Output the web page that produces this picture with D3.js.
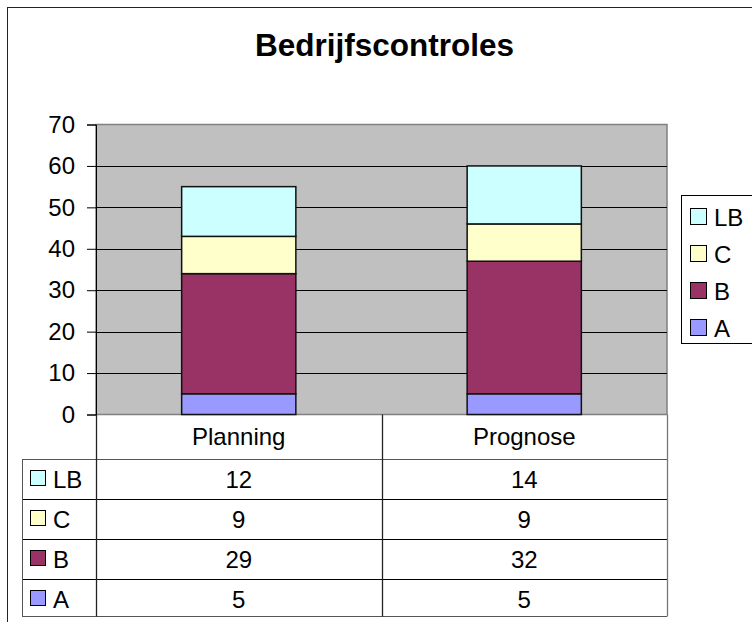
<!DOCTYPE html>
<html>
<head>
<meta charset="utf-8">
<script src="https://cdn.jsdelivr.net/npm/d3@7"></script>
<style>
  body { margin: 0; background: #fff; }
  text { font-family: "Liberation Sans", Arial, sans-serif; fill: #000; }
</style>
</head>
<body>
<div id="chart"></div>
<script>
// data
var categories = ["Planning", "Prognose"];
var seriesNames = ["A", "B", "C", "LB"];
var valuesA = [5, 5];
var valuesB = [29, 32];
var valuesC = [9, 9];
var valuesLB = [12, 14];
var seriesColors = ["#9999FF", "#993366", "#FFFFCC", "#CCFFFF"];
var yTicks = [0, 10, 20, 30, 40, 50, 60, 70];

var width = 752, height = 622;
var svg = d3.select("#chart").append("svg").attr("width", width).attr("height", height);

// outer chart border
svg.append("rect").attr("x", 7.5).attr("y", 7.5).attr("width", 800).attr("height", 700)
    .attr("fill", "#fff").attr("stroke", "#222").attr("stroke-width", 1);

// title
svg.append("text").attr("x", 384.5).attr("y", 56).attr("text-anchor", "middle")
    .style("font-size", "31.5px").style("font-weight", "bold").text("Bedrijfscontroles");

// scales
var plotLeft = 96, plotRight = 667, plotTop = 124.5, plotBottom = 414.5;
var x = d3.scaleBand().domain(categories).range([plotLeft, plotRight]).paddingInner(0.6).paddingOuter(0.3);
var y = d3.scaleLinear().domain([0, 70]).range([plotBottom, plotTop]);

// stack the series
var rows = categories.map(function(c, i) {
    return {cat: c, A: valuesA[i], B: valuesB[i], C: valuesC[i], LB: valuesLB[i]};
});
var stacked = d3.stack().keys(seriesNames)(rows);

// plot background
svg.append("rect").attr("x", plotLeft).attr("y", plotTop)
    .attr("width", plotRight - plotLeft).attr("height", plotBottom - plotTop)
    .attr("fill", "#C0C0C0").attr("stroke", "#808080").attr("stroke-width", 1.5);

// gridlines
svg.append("g").selectAll("line").data(yTicks.slice(1, -1)).enter().append("line")
    .attr("x1", plotLeft).attr("x2", plotRight)
    .attr("y1", function(d) { return Math.round(y(d)) + 0.5; })
    .attr("y2", function(d) { return Math.round(y(d)) + 0.5; })
    .attr("stroke", "#000").attr("stroke-width", 1);

// bars
var layer = svg.append("g").selectAll("g").data(stacked).enter().append("g")
    .attr("fill", function(d, i) { return seriesColors[i]; });
layer.selectAll("rect").data(function(d) { return d; }).enter().append("rect")
    .attr("x", function(d) { return x(d.data.cat); })
    .attr("width", x.bandwidth())
    .attr("y", function(d) { return y(d[1]); })
    .attr("height", function(d) { return y(d[0]) - y(d[1]); })
    .attr("stroke", "#111").attr("stroke-width", 1.5);

// y axis
var yAxis = d3.axisLeft(y).tickValues(yTicks).tickSize(9).tickPadding(12);
var ya = svg.append("g").attr("transform", "translate(" + plotLeft + ",0)").call(yAxis);
ya.select(".domain").attr("stroke", "#000");
ya.selectAll(".tick line").attr("stroke", "#000");
ya.selectAll("text").style("font-size", "24px").attr("font-family", null);

// data table
var rowH = 40;
var tableTop = 459, tableLeft = 22;
var tableRows = seriesNames.slice().reverse();
var valuesBySeries = {A: valuesA, B: valuesB, C: valuesC, LB: valuesLB};
var colorBySeries = {};
seriesNames.forEach(function(s, i) { colorBySeries[s] = seriesColors[i]; });
var tableBottom = tableTop + rowH * tableRows.length - 3;
var table = svg.append("g");

// horizontal lines
table.selectAll("line.h").data(tableRows.map(function(d, i) { return i; }).concat([tableRows.length]))
    .enter().append("line")
    .attr("x1", tableLeft).attr("x2", plotRight)
    .attr("y1", function(i) { return i == tableRows.length ? tableBottom + 0.5 : tableTop + i * rowH + 0.5; })
    .attr("y2", function(i) { return i == tableRows.length ? tableBottom + 0.5 : tableTop + i * rowH + 0.5; })
    .attr("stroke", function(i) { return (i == 0 || i == tableRows.length) ? "#555" : "#000"; })
    .attr("stroke-width", 1);

// vertical lines
var cellEdges = [plotLeft, x(categories[1]) - x.step() * 0.3, plotRight];
table.selectAll("line.v").data(cellEdges).enter().append("line")
    .attr("x1", function(d) { return Math.round(d) + 0.5; })
    .attr("x2", function(d) { return Math.round(d) + 0.5; })
    .attr("y1", plotBottom).attr("y2", tableBottom + 0.5)
    .attr("stroke", function(d, i) { return i == 2 ? "#777" : "#222"; }).attr("stroke-width", 1.3);
table.append("line").attr("x1", tableLeft + 0.5).attr("x2", tableLeft + 0.5)
    .attr("y1", tableTop).attr("y2", tableBottom + 0.5).attr("stroke", "#555");

// category labels
table.selectAll("text.cat").data(categories).enter().append("text")
    .attr("x", function(d) { return x(d) + x.bandwidth() / 2; })
    .attr("y", 445).attr("text-anchor", "middle").style("font-size", "24px")
    .text(function(d) { return d; });

// rows
tableRows.forEach(function(s, r) {
    var cy = tableTop + r * rowH + rowH / 2;
    table.append("rect").attr("x", 30.5).attr("y", cy - 8.5).attr("width", 15).attr("height", 15)
        .attr("fill", colorBySeries[s]).attr("stroke", "#000");
    table.append("text").attr("x", 53).attr("y", cy + 8.5).style("font-size", "24px").text(s);
    categories.forEach(function(c, i) {
        table.append("text").attr("x", x(c) + x.bandwidth() / 2).attr("y", cy + 8.5)
            .attr("text-anchor", "middle").style("font-size", "24px")
            .text(valuesBySeries[s][i]);
    });
});

// legend
var legend = svg.append("g");
legend.append("rect").attr("x", 681.5).attr("y", 195.5).attr("width", 100).attr("height", 148)
    .attr("fill", "#fff").attr("stroke", "#000");
tableRows.forEach(function(s, i) {
    var cy = 217 + i * 37;
    legend.append("rect").attr("x", 690.5).attr("y", cy - 8.5).attr("width", 16).attr("height", 16)
        .attr("fill", colorBySeries[s]).attr("stroke", "#000");
    legend.append("text").attr("x", 714).attr("y", cy + 8.5).style("font-size", "24px").text(s);
});
</script>
</body>
</html>
